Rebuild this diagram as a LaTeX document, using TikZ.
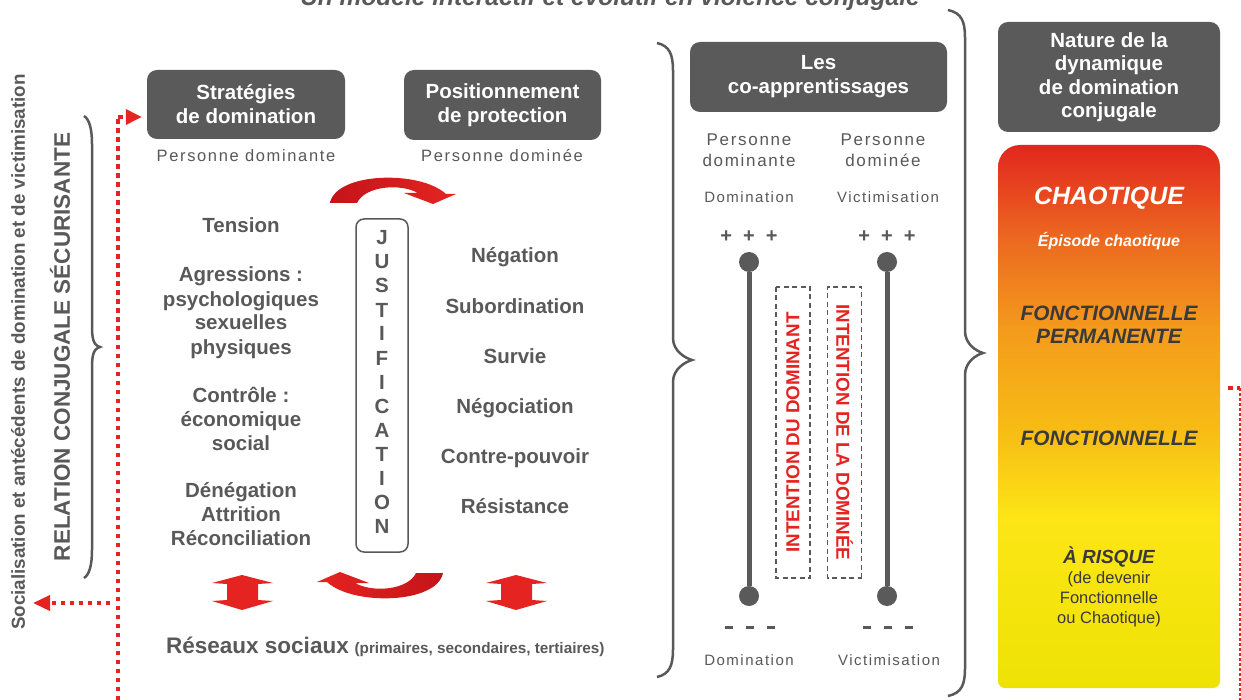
\documentclass[tikz,border=0pt]{standalone}
\usepackage{fontspec}
\setmainfont{Liberation Sans}
\newfontfamily\spacedfont[LetterSpace=10]{Liberation Sans}
\usetikzlibrary{arrows.meta}
\definecolor{boxgray}{HTML}{5A5A5A}
\definecolor{txtgray}{HTML}{595959}
\definecolor{redA}{HTML}{E52421}
\definecolor{redB}{HTML}{C41419}
\definecolor{darktxt}{HTML}{3A3A3A}
\definecolor{ga}{RGB}{226,38,30}
\definecolor{gb}{RGB}{236,105,32}
\definecolor{gc}{RGB}{244,155,28}
\definecolor{gd}{RGB}{247,188,20}
\definecolor{ge}{RGB}{252,230,22}
\definecolor{gf}{RGB}{238,226,4}
\pgfdeclareverticalshading{heat}{100bp}{color(0bp)=(gf); color(25bp)=(gf); color(40.5bp)=(ge); color(48.8bp)=(gd); color(58bp)=(gc); color(66.3bp)=(gb); color(75bp)=(ga); color(100bp)=(ga)}
\newcommand\fsz[2]{\fontsize{#1}{#2}\selectfont}
\newcommand\drawcurly[6]{%
 \draw[bracestyle] (#1,#4) .. controls ({#2-3},{#4+3}) and (#2,{#4+12}) .. (#2,{#4+28}) -- (#2,{#5-22}) .. controls (#2,{#5-9}) and ({#3-7},{#5-2}) .. (#3,#5) .. controls ({#3-7},{#5+2}) and (#2,{#5+9}) .. (#2,{#5+22}) -- (#2,{#6-28}) .. controls (#2,{#6-12}) and ({#2-3},{#6-3}) .. (#1,#6);}
\tikzset{
 hdr/.style={fill=boxgray, rounded corners=10pt, text=white, font=\bfseries\fsz{20.5}{24}, align=center, inner sep=0pt},
 item/.style={text=txtgray, font=\bfseries\fsz{20.5}{24}, anchor=base, inner sep=0pt},
 persn/.style={text=txtgray, font=\spacedfont\fsz{16.5}{22}, anchor=base, inner sep=0pt},
 smalllbl/.style={text=txtgray, font=\spacedfont\fsz{15}{18}, anchor=base, inner sep=0pt},
 jlet/.style={text=txtgray, font=\bfseries\fsz{20.5}{24}, anchor=base, inner sep=0pt},
 reddot/.style={draw=redA, line width=3.5pt, dash pattern=on 4.5pt off 4.5pt},
 bracestyle/.style={draw=txtgray, line width=2.5pt},
 rail/.style={draw=boxgray, line width=5pt},
 knob/.style={circle, fill=boxgray, minimum size=20pt, inner sep=0pt},
 dbox/.style={draw=txtgray, line width=1.5pt, dash pattern=on 5pt off 3.5pt, minimum width=291pt, minimum height=34pt, inner sep=0pt, text=redA, font=\bfseries\fsz{18.8}{22}},
 gw/.style={text=white, anchor=base, inner sep=0pt},
 gd/.style={text=darktxt, anchor=base, inner sep=0pt, align=center},
 blockarrow/.style={fill=redA},
}
\begin{document}
\begin{tikzpicture}[x=1pt,y=-1pt]
\useasboundingbox (0,0) rectangle (1241,700);
\fill[white] (0,0) rectangle (1241,700);

% title
\node[text=txtgray, font=\bfseries\itshape\fsz{24.5}{28}, anchor=base, inner sep=0pt] (title) at (610,6) {Un modèle interactif et évolutif en violence conjugale};

% left vertical texts
\node[rotate=90, text=txtgray, font=\bfseries\fsz{18.8}{22}, inner sep=0pt] (soc) at (18,352) {Socialisation et antécédents de domination et de victimisation};
\node[rotate=90, text=txtgray, font=\bfseries\fsz{22.5}{26}, inner sep=0pt] (rel) at (60,347) {RELATION CONJUGALE SÉCURISANTE};

% braces
\drawcurly{84}{92}{100}{116}{347}{578}
\drawcurly{657}{673}{692}{43}{360}{677}
\drawcurly{948}{965}{983}{10}{353}{696}

% header boxes
\node[hdr, minimum width=198pt, minimum height=69pt] (strat) at (246,104.5) {Stratégies\\de domination};
\node[hdr, minimum width=197pt, minimum height=70pt] (posi) at (502.5,105) {Positionnement\\de protection};
\node[hdr, minimum width=257pt, minimum height=70pt] (coap) at (818.5,77) {Les\\co-apprentissages};
\node[hdr, minimum width=222pt, minimum height=110pt, font=\bfseries\fsz{20.5}{23.5}] (nat) at (1109,77) {Nature de la\\dynamique\\de domination\\conjugale};

\node[persn] (pd1) at (246,162) {Personne dominante};
\node[persn] (pd2) at (502,162) {Personne dominée};

% red dotted lines
\coordinate (dtop) at (118,117);
\coordinate (dbot) at (118,700);
\draw[reddot] (dbot) -- (dtop);
\draw[reddot, -{Triangle[length=16pt,width=15pt]}, shorten >=5pt] (dtop) -- (strat.west |- dtop);
\coordinate (dmid) at (110,603);
\coordinate (dleft) at (33,603);
\draw[reddot, -{Triangle[length=17pt,width=15pt]}] (dmid) -- (dleft);
\coordinate (rr1) at (1228,388);
\coordinate (rr2) at (1240,388);
\coordinate (rr3) at (1240,700);
\draw[reddot] (rr1) -- (rr2);
\draw[draw=redA, line width=1.2pt, dash pattern=on 3pt off 2pt] (rr2) -- (rr3);

% curved red arrows
\shade[left color=redB, right color=redA] (330,203) .. controls (336,172) and (420,170) .. (446,194) -- (456,194) -- (433,204) -- (404,193) -- (418,193) .. controls (400,183) and (365,186) .. (357,203) -- cycle;
\shade[left color=redA, right color=redB] (443,573) .. controls (437,604) and (353,606) .. (327,582) -- (317,582) -- (340,572) -- (369,583) -- (355,583) .. controls (373,593) and (408,590) .. (416,573) -- cycle;

% double vertical arrows
\fill[blockarrow] (242,575) -- (273,583) -- (258,584) -- (258,600) -- (273,601) -- (242,610) -- (212,601) -- (227,600) -- (227,584) -- (212,583) -- cycle;
\fill[blockarrow] (516,575) -- (547,583) -- (532,584) -- (532,600) -- (547,601) -- (516,610) -- (486,601) -- (501,600) -- (501,584) -- (486,583) -- cycle;

% left column
\node[item] (l1) at (241,233) {Tension};
\node[item] (l2) at (241,282) {Agressions :};
\node[item] (l3) at (241,306) {psychologiques};
\node[item] (l4) at (241,330) {sexuelles};
\node[item] (l5) at (241,354) {physiques};
\node[item] (l6) at (241,402) {Contrôle :};
\node[item] (l7) at (241,426) {économique};
\node[item] (l8) at (241,450) {social};
\node[item] (l9) at (241,497) {Dénégation};
\node[item] (l10) at (241,521) {Attrition};
\node[item] (l11) at (241,545) {Réconciliation};

% right column
\node[item] (r1) at (515,263) {Négation};
\node[item] (r2) at (515,313) {Subordination};
\node[item] (r3) at (515,363) {Survie};
\node[item] (r4) at (515,413) {Négociation};
\node[item] (r5) at (515,463) {Contre-pouvoir};
\node[item] (r6) at (515,513) {Résistance};

% justification
\node[draw=txtgray, line width=1.5pt, rounded corners=8pt, minimum width=52pt, minimum height=333pt, inner sep=0pt] (jbox) at (382,385.5) {};
\foreach \l [count=\i from 0] in {J,U,S,T,I,F,I,C,A,T,I,O,N}
  \node[jlet] (j\i) at (382,{245+24*\i}) {\l};

% reseaux sociaux
\node[text=txtgray, anchor=base west, inner sep=0pt, font=\bfseries] (res) at (166,653) {{\fsz{22.5}{26}Réseaux sociaux}\hspace{3pt} {\fsz{15.3}{18}(primaires, secondaires, tertiaires)}};

% co-apprentissages column
\node[persn, font=\spacedfont\fsz{17}{22}] (cp1) at (749,146) {Personne};
\node[persn, font=\spacedfont\fsz{17}{22}] (cp2) at (749,167) {dominante};
\node[persn, font=\spacedfont\fsz{17}{22}] (cp3) at (883,146) {Personne};
\node[persn, font=\spacedfont\fsz{17}{22}] (cp4) at (883,167) {dominée};
\node[smalllbl] (dom1) at (749,203) {Domination};
\node[smalllbl] (vic1) at (888,203) {Victimisation};
\node[text=txtgray, font=\bfseries\fsz{20}{24}, inner sep=0pt] (pl1) at (749,237) {+\hspace{11pt}+\hspace{11pt}+};
\node[text=txtgray, font=\bfseries\fsz{20}{24}, inner sep=0pt] (pl2) at (887,237) {+\hspace{11pt}+\hspace{11pt}+};
\node[knob] (k1) at (749,262) {};
\node[knob] (k2) at (749,596) {};
\node[knob] (k3) at (887,262) {};
\node[knob] (k4) at (887,596) {};
\draw[rail] (k1) -- (k2);
\draw[rail] (k3) -- (k4);
\coordinate (m1a) at (725,627);
\coordinate (m1b) at (776,627);
\coordinate (m2a) at (863,627);
\coordinate (m2b) at (914,627);
\draw[txtgray, line width=3pt, dash pattern=on 7.5pt off 13.5pt] (m1a) -- (m1b);
\draw[txtgray, line width=3pt, dash pattern=on 7.5pt off 13.5pt] (m2a) -- (m2b);
\node[smalllbl] (dom2) at (749,665) {Domination};
\node[smalllbl] (vic2) at (889,665) {Victimisation};
\node[dbox, rotate=90] (db1) at (793,432.5) {INTENTION DU DOMINANT};
\node[dbox, rotate=-90] (db2) at (844.5,432.5) {INTENTION DE LA DOMINÉE};

% gradient box
\shade[shading=heat] (998,400) [rounded corners=22pt] -- (998,145) -- (1220,145) -- (1220,400) [rounded corners=7pt] -- (1220,688) -- (998,688) -- cycle;
\node[gw, font=\bfseries\itshape\fsz{25}{28}] (g1) at (1109,205) {CHAOTIQUE};
\node[gw, font=\bfseries\itshape\fsz{16}{19}] (g2) at (1109,247) {Épisode chaotique};
\node[gd, font=\bfseries\itshape\fsz{20.8}{23}] (g3) at (1109,320) {FONCTIONNELLE};
\node[gd, font=\bfseries\itshape\fsz{20.8}{23}] (g4) at (1109,343) {PERMANENTE};
\node[gd, font=\bfseries\itshape\fsz{20.8}{23}] (g5) at (1109,445) {FONCTIONNELLE};
\node[gd, font=\bfseries\itshape\fsz{19}{22}] (g6) at (1109,563) {À RISQUE};
\node[gd, font=\fsz{16.5}{20}] (g7) at (1109,583) {(de devenir};
\node[gd, font=\fsz{16.5}{20}] (g8) at (1109,603) {Fonctionnelle};
\node[gd, font=\fsz{16.5}{20}] (g9) at (1109,623) {ou Chaotique)};
\end{tikzpicture}
\end{document}
